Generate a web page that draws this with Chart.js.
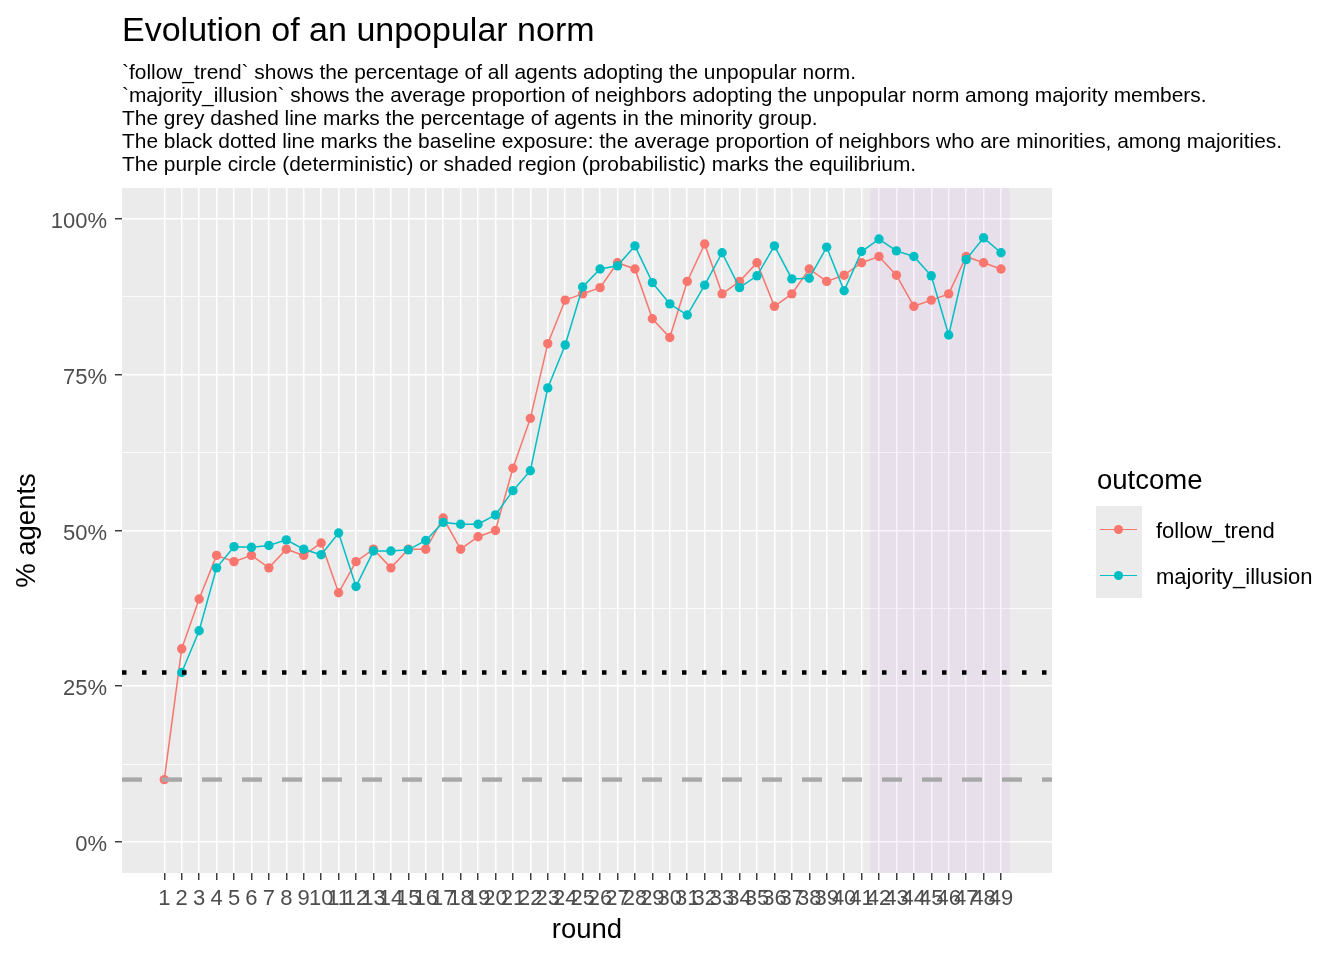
<!DOCTYPE html>
<html>
<head>
<meta charset="utf-8">
<script src="https://cdn.jsdelivr.net/npm/chart.js@4"></script>
<style>
  body { margin:0; background:#fff; width:1344px; height:960px; position:relative; overflow:hidden;
         font-family:'Liberation Sans', Arial, sans-serif; }
  #wrap { position:absolute; left:0; top:0; width:1344px; height:960px; }
  .t { position:absolute; white-space:nowrap; color:#000; }
  .key { position:absolute; left:1096px; width:46px; height:46px; background:#EBEBEB; }
  .kline { position:absolute; left:4px; width:37px; height:1.5px; top:22.5px; }
  .kdot { position:absolute; left:18px; top:18.5px; width:9.2px; height:9.2px; border-radius:50%; }
</style>
</head>
<body>
<div id="wrap"><canvas id="c" width="1344" height="960"></canvas></div>

<div class="t" style="left:122px;top:13px;font-size:34px;line-height:33px;">Evolution of an unpopular norm</div>
<div class="t" style="left:122px;top:60px;font-size:20.9px;line-height:23px;">
`follow_trend` shows the percentage of all agents adopting the unpopular norm.<br>
`majority_illusion` shows the average proportion of neighbors adopting the unpopular norm among majority members.<br>
The grey dashed line marks the percentage of agents in the minority group.<br>
The black dotted line marks the baseline exposure: the average proportion of neighbors who are minorities, among majorities.<br>
The purple circle (deterministic) or shaded region (probabilistic) marks the equilibrium.
</div>

<div class="t" style="left:1097px;top:466px;font-size:27.5px;line-height:27.5px;">outcome</div>
<div class="key" style="top:506px;"><div class="kline" style="background:#F8766D"></div><div class="kdot" style="background:#F8766D"></div></div>
<div class="key" style="top:552px;"><div class="kline" style="background:#00BFC4"></div><div class="kdot" style="background:#00BFC4"></div></div>
<div class="t" style="left:1156px;top:520px;font-size:22px;line-height:22px;">follow_trend</div>
<div class="t" style="left:1156px;top:566px;font-size:22px;line-height:22px;">majority_illusion</div>

<script>
// ---- data ----
const rounds = [1,2,3,4,5,6,7,8,9,10,11,12,13,14,15,16,17,18,19,20,21,22,23,24,25,26,27,28,29,30,31,32,33,34,35,36,37,38,39,40,41,42,43,44,45,46,47,48,49];
const followTrend = [10,31,39,46,45,46,44,47,46,48,
                     40,45,47,44,47,47,52,47,49,50,
                     60,68,80,87,88,89,93,92,84,81,
                     90,96,88,90,93,86,88,92,90,91,
                     93,94,91,86,87,88,94,93,92];
const majorityIllusion = [null,27.2,33.9,44.0,47.4,47.3,47.6,48.5,47.0,46.1,
                          49.6,41.0,46.7,46.7,46.9,48.4,51.3,51.0,51.0,52.5,
                          56.4,59.6,72.9,79.8,89.1,92.0,92.5,95.7,89.8,86.4,
                          84.6,89.4,94.6,89.0,90.9,95.7,90.4,90.5,95.5,88.5,
                          94.8,96.8,94.9,94.0,90.9,81.4,93.5,97.0,94.6];
const minorityShare = 10;        // grey dashed line
const baselineExposure = 27.2;   // black dotted line
const equilibriumStart = 41.5;   // shaded region
const equilibriumEnd = 49.5;
const xTickValues = rounds;
const yTickValues = [0,12.5,25,37.5,50,62.5,75,87.5,100];
const yTickLabels = {0:'0%',25:'25%',50:'50%',75:'75%',100:'100%'};
const xMin = -1.425, xMax = 51.925, yMin = -5, yMax = 105;

// ---- plugins ----
const panelBg = {
  id:'panelBg',
  beforeDraw(chart){
    const {ctx, chartArea:a} = chart;
    ctx.save(); ctx.fillStyle = '#EBEBEB';
    ctx.fillRect(a.left, a.top, a.right-a.left, a.bottom-a.top);
    ctx.restore();
  }
};
const shade = {
  id:'shade',
  beforeDatasetsDraw(chart){
    const {ctx, chartArea:a, scales} = chart;
    const x0 = scales.x.getPixelForValue(equilibriumStart);
    const x1 = scales.x.getPixelForValue(equilibriumEnd);
    ctx.save(); ctx.fillStyle = 'rgba(160,32,240,0.055)';
    ctx.fillRect(x0, a.top, x1-x0, a.bottom-a.top);
    ctx.restore();
  }
};

const FONT = "'Liberation Sans', Arial, sans-serif";
const pts = (arr) => rounds.map((r,i)=>({x:r, y:arr[i]}));

new Chart(document.getElementById('c'), {
  type:'line',
  data:{
    datasets:[
      { label:'dashed', data:[{x:xMin,y:minorityShare},{x:xMax,y:minorityShare}],
        borderColor:'#A8A8A8', borderWidth:4.4, borderDash:[20,20], borderCapStyle:'butt',
        pointRadius:0, order:0 },
      { label:'dotted', data:[{x:xMin,y:baselineExposure},{x:xMax,y:baselineExposure}],
        borderColor:'#000000', borderWidth:4.5, borderDash:[4.5,15.5], borderCapStyle:'butt',
        pointRadius:0, order:1 },
      { label:'majority_illusion', data:pts(majorityIllusion),
        borderColor:'#00BFC4', backgroundColor:'#00BFC4', borderWidth:1.5,
        pointRadius:4.7, pointBorderWidth:0, pointBackgroundColor:'#00BFC4', order:2 },
      { label:'follow_trend', data:pts(followTrend),
        borderColor:'#F8766D', backgroundColor:'#F8766D', borderWidth:1.5,
        pointRadius:4.7, pointBorderWidth:0, pointBackgroundColor:'#F8766D', order:3 }
    ]
  },
  options:{
    responsive:false, animation:false, devicePixelRatio:1,
    layout:{ padding:{ top:188, right:292, bottom:0, left:0 } },
    plugins:{ legend:{display:false}, tooltip:{enabled:false} },
    scales:{
      x:{
        type:'linear', min:xMin, max:xMax,
        afterBuildTicks(s){ s.ticks = xTickValues.map(v=>({value:v})); },
        afterFit(s){ s.height = 87; },
        border:{ display:false },
        grid:{ color:'#FFFFFF', lineWidth:1.5, tickColor:'#333333', tickLength:7, tickWidth:1.4 },
        ticks:{ autoSkip:false, maxRotation:0, minRotation:0, padding:6, color:'#4D4D4D',
                font:{ family:FONT, size:22 }, callback:(v)=>String(v) },
        title:{ display:true, text:'round', color:'#000', font:{ family:FONT, size:27.5 },
                padding:{ top:0, bottom:13 } }
      },
      y:{
        type:'linear', min:yMin, max:yMax,
        afterBuildTicks(s){ s.ticks = yTickValues.map(v=>({value:v})); },
        afterFit(s){ s.width = 122; },
        border:{ display:false },
        grid:{ color:'#FFFFFF',
               lineWidth:(c)=> (c.tick && yTickLabels[c.tick.value] !== undefined) ? 1.5 : 0.8,
               tickColor:(c)=> (c.tick && yTickLabels[c.tick.value] !== undefined) ? '#333333' : 'rgba(0,0,0,0)',
               tickLength:7, tickWidth:1.4 },
        ticks:{ padding:8, labelOffset:3, color:'#4D4D4D', font:{ family:FONT, size:22 },
                callback:(v)=> yTickLabels[v] !== undefined ? yTickLabels[v] : '' },
        title:{ display:true, text:'% agents', color:'#000', font:{ family:FONT, size:27.5 },
                padding:{ top:11, bottom:0 } }
      }
    }
  },
  plugins:[panelBg, shade]
});
</script>
</body>
</html>
